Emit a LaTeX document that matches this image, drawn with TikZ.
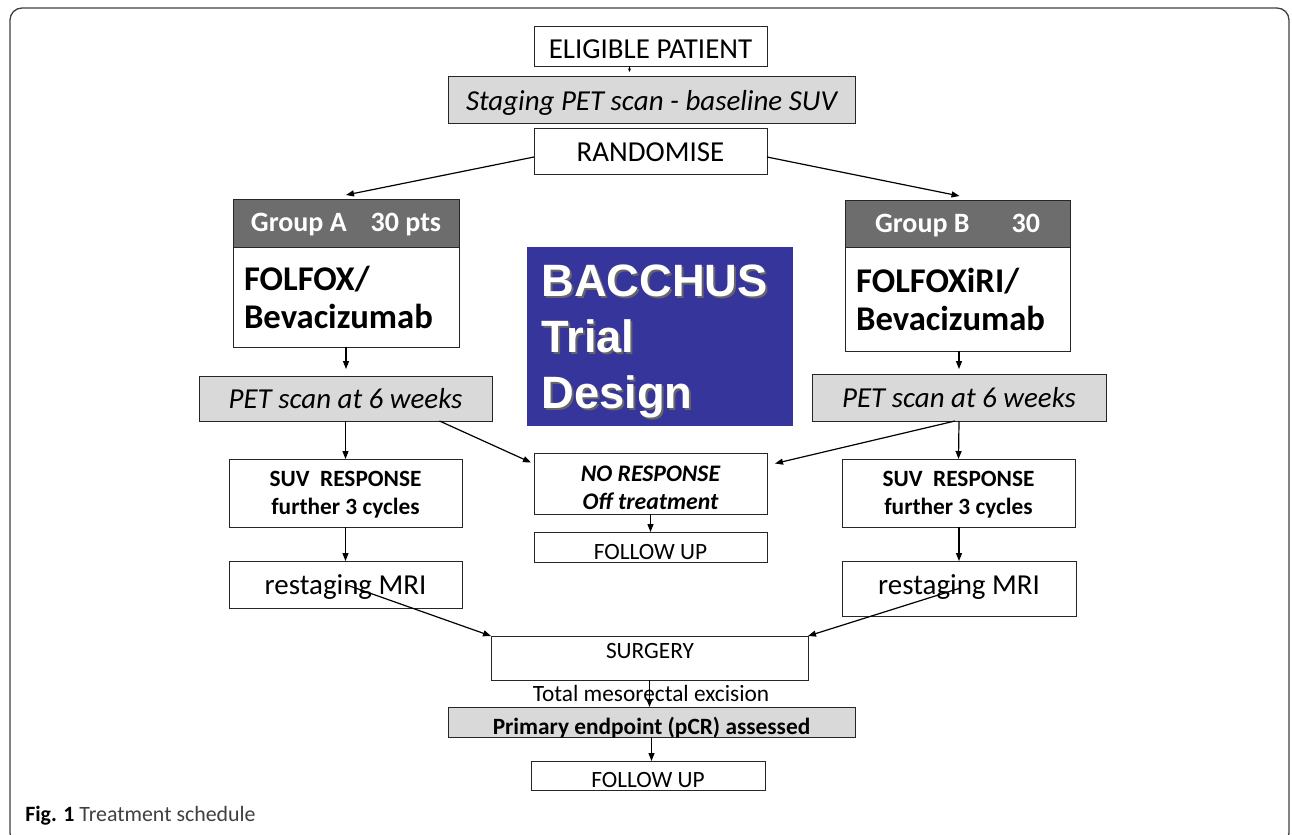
\documentclass[tikz,border=0pt]{standalone}
\usepackage{fontspec}
\setmainfont{Carlito}
\newfontfamily\arialf{Liberation Sans}
\usetikzlibrary{arrows.meta,calc}
\definecolor{lgray}{HTML}{D9D9D9}
\definecolor{dgray}{HTML}{6D6D6D}
\definecolor{bblue}{HTML}{35359B}
% name, style, x1, y1, x2, y2, text shift (px, downward), text
\newcommand\BX[8]{%
  \node[#2, minimum width={(#5-#3)*0.75pt}, minimum height={(#6-#4)*0.75pt}] (#1) at ({(#3+#5)/2},{(#4+#6)/2}) {};
  \node[#2, draw=none, fill=none] (#1-t) at ({(#3+#5)/2},{(#4+#6)/2+#7}) {#8};}
\begin{document}
\begin{tikzpicture}[x=0.75pt,y=-0.75pt,
  box/.style={draw=black!85, line width=0.75pt, fill=white, inner sep=0pt, outer sep=0pt, align=center},
  gbox/.style={box, fill=lgray},
  hbox/.style={box, fill=dgray, text=white, font=\bfseries\fontsize{21}{24}\selectfont},
  big/.style={font=\fontsize{21.7}{25}\selectfont},
  drugA/.style={font=\bfseries\fontsize{26}{28.5}\selectfont, align=left, text width=153pt},
  drugB/.style={font=\bfseries\fontsize{26}{28.5}\selectfont, align=left, text width=152pt},
  suv/.style={font=\bfseries\fontsize{17.5}{21}\selectfont},
  nrs/.style={font=\bfseries\itshape\fontsize{17.8}{21}\selectfont},
  small/.style={font=\fontsize{17.5}{20}\selectfont, inner sep=0pt},
  primf/.style={font=\bfseries\fontsize{17.5}{20}\selectfont},
  arr/.style={-{Triangle[length=6pt,width=4.5pt]}, line width=0.9pt},
  tiny/.style={-{Triangle[length=2.5pt,width=2pt]}, line width=0.6pt}]
\useasboundingbox (0,0) rectangle (1292,835);
\draw[line width=1pt, black!75, rounded corners=9pt] (10,8) rectangle (1289,845);

\BX{elig}{box,big}{534}{26}{767}{66}{3}{ELIGIBLE PATIENT}
\BX{stag}{gbox,big}{448}{76}{855}{123}{3}{\itshape Staging PET scan - baseline SUV}
\BX{rand}{box,big}{534}{128}{767}{174}{1}{RANDOMISE}

\BX{hA}{hbox}{233}{199}{459}{247}{2}{Group A\hspace{0.85em}30 pts}
\BX{bA}{box,drugA}{233}{247}{459}{347}{0}{FOLFOX/\\Bevacizumab}
\BX{pA}{gbox,big}{199}{376}{492}{421}{0}{\itshape PET scan at 6 weeks}
\BX{sA}{box,suv}{229}{459}{462}{527}{2}{SUV\ \ RESPONSE\\further 3 cycles}
\BX{mA}{box,big}{229}{561}{462}{608}{3}{restaging MRI}

\BX{hB}{hbox}{845}{200}{1070}{247}{2}{Group B\hspace{1.5em}30}
\BX{bB}{box,drugB}{845}{247}{1070}{351}{0}{FOLFOXiRI/\\Bevacizumab}
\BX{pB}{gbox,big}{812}{374}{1106}{421}{0}{\itshape PET scan at 6 weeks}
\BX{sB}{box,suv}{842}{459}{1075}{527}{2}{SUV\ \ RESPONSE\\further 3 cycles}
\BX{mB}{box,big}{842}{561}{1076}{616}{-1}{restaging MRI}

\BX{bac}{box,draw=none,fill=bblue}{527}{247}{793}{426}{0}{}
\node[anchor=west, align=left, inner sep=0pt, font=\arialf\bfseries\fontsize{34}{42}\selectfont, text=black!60] (bacs) at (543,343) {BACCHUS\\Trial\\Design};
\node[anchor=west, align=left, inner sep=0pt, font=\arialf\bfseries\fontsize{34}{42}\selectfont, text=white] (bact) at (541,341) {BACCHUS\\Trial\\Design};

\BX{nr}{box,nrs}{534}{453}{767}{514}{4}{NO RESPONSE\\Off treatment}
\BX{fu1}{box,small}{534}{532}{767}{562}{5}{FOLLOW UP}
\BX{surg}{box}{491}{636}{808}{680}{0}{}
\node[small] (surgt) at (650,651) {SURGERY};
\node[small] (tme) at (651,693) {Total mesorectal excision};
\BX{prim}{gbox,primf}{448}{707}{855}{737}{6}{Primary endpoint (pCR) assessed}
\BX{fu2}{box,small}{531}{761}{765}{790}{5}{FOLLOW UP}

% connectors
\draw[tiny] ($(elig.south)+(-21,0)$) -- ($(elig.south)+(-21,6)$);
\draw[arr] ([yshift=-4.5pt]rand.west) -- ([yshift=3pt]hA.north);
\draw[arr] ([yshift=-4.5pt]rand.east) -- ([xshift=1.5pt,yshift=3pt]hB.north);
\draw[arr] (bA.south) -- ++(0,22);
\draw[arr] (bB.south -| pB.north) -- ++(0,18);
\draw[arr] (pA.south) -- (sA.north);
\draw[arr] ($(pA.south)+(94,0)$) -- ($(nr.west)+(-3,-21)$);
\draw[arr] (pB.south) -- (sB.north);
\draw[arr] ($(pB.south)+(-4,0)$) -- ($(nr.east)+(8,-20)$);
\draw[arr] (nr.south) -- (fu1.north);
\draw[arr] (sA.south) -- (mA.north);
\draw[arr] (sB.south -| mB.north) -- (mB.north);
\draw[arr] (mA.center) -- (surg.north west);
\draw[arr] (mB.center) -- (surg.north east);
\draw[arr] (surg.south) -- (surg.south |- prim.north);
\draw[arr] (prim.south) -- (prim.south |- fu2.north);

\node[anchor=west, inner sep=0pt, font=\fontsize{16.4}{19}\selectfont] (cap) at (25,816) {\textbf{Fig. 1} \textcolor{black!75}{Treatment schedule}};
\end{tikzpicture}
\end{document}
